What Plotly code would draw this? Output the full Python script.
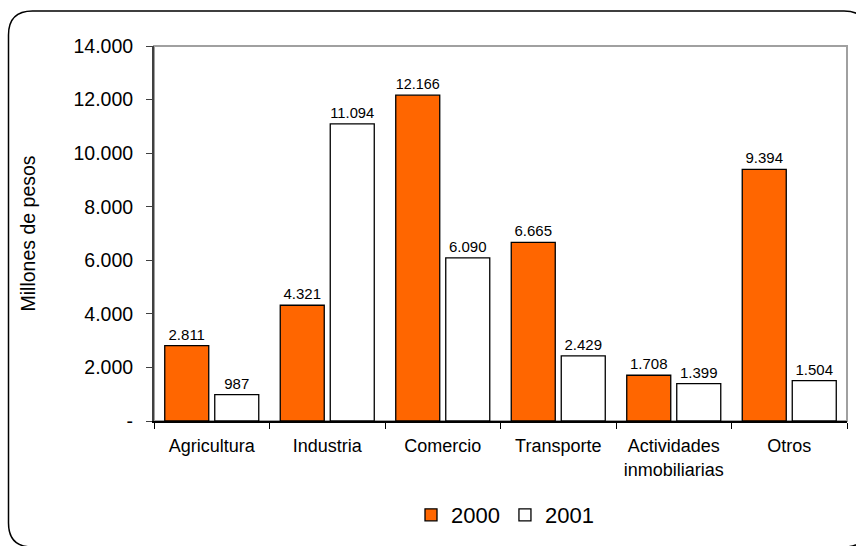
import plotly.graph_objects as go

categories = ["Agricultura", "Industria", "Comercio", "Transporte", "Actividades<br>inmobiliarias", "Otros"]
values_2000 = [2811, 4321, 12166, 6665, 1708, 9394]
values_2001 = [987, 11094, 6090, 2429, 1399, 1504]
series_names = ["2000", "2001"]
y_tickvals = [0, 2000, 4000, 6000, 8000, 10000, 12000, 14000]
y_ticktext = ["-", "2.000", "4.000", "6.000", "8.000", "10.000", "12.000", "14.000"]

W, H = 856, 546
L, R, T, B = 154, 9, 46, 125
PW, PH = W - L - R, H - T - B

def px(x):
    return (x - L) / PW

def py(y):
    return (H - B - y) / PH

FONT = "Liberation Sans, Arial, sans-serif"

fig = go.Figure()
fig.add_trace(go.Bar(
    x=categories, y=values_2000, name=series_names[0],
    marker=dict(color="#FF6600", line=dict(color="#000000", width=1.3)),
    texttemplate="%{y:,.0f}", textposition="outside",
    textfont=dict(size=15, color="#000000", family=FONT), cliponaxis=False,
))
fig.add_trace(go.Bar(
    x=categories, y=values_2001, name=series_names[1],
    marker=dict(color="#FFFFFF", line=dict(color="#000000", width=1.3)),
    texttemplate="%{y:,.0f}", textposition="outside",
    textfont=dict(size=15, color="#000000", family=FONT), cliponaxis=False,
))

# rounded outer frame
x0, y0, x1, y1, r = 8.5, 11, 868, 547, 24
path = (f"M {px(x0+r)},{py(y0)} L {px(x1-r)},{py(y0)} Q {px(x1)},{py(y0)} {px(x1)},{py(y0+r)} "
        f"L {px(x1)},{py(y1-r)} Q {px(x1)},{py(y1)} {px(x1-r)},{py(y1)} "
        f"L {px(x0+r)},{py(y1)} Q {px(x0)},{py(y1)} {px(x0)},{py(y1-r)} "
        f"L {px(x0)},{py(y0+r)} Q {px(x0)},{py(y0)} {px(x0+r)},{py(y0)} Z")

fig.update_layout(
    width=W, height=H,
    margin=dict(l=L, r=R, t=T, b=B),
    paper_bgcolor="#FFFFFF", plot_bgcolor="#FFFFFF",
    separators=",.",
    font=dict(family=FONT, color="#000000", size=18),
    barmode="group", bargap=0.134, bargroupgap=0.12,
    showlegend=True,
    legend=dict(orientation="h", x=px(505), xanchor="center", y=py(515), yanchor="middle",
                font=dict(size=22, family=FONT), bgcolor="rgba(0,0,0,0)",
                itemwidth=30, tracegroupgap=0),
    shapes=[
        dict(type="path", path=path, xref="paper", yref="paper",
             line=dict(color="#000000", width=1.5), layer="below"),
        dict(type="rect", x0=0, x1=1, y0=0, y1=1, xref="paper", yref="paper",
             line=dict(color="#A0A0A0", width=2), layer="below"),
    ],
    annotations=[
        dict(text="Millones de pesos", x=px(27), y=0.5, xref="paper", yref="paper",
             textangle=-90, showarrow=False, xanchor="center", yanchor="middle",
             font=dict(size=19.5, family=FONT)),
    ],
)
fig.update_xaxes(
    type="category", showline=True, linecolor="#000000", linewidth=1.5,
    ticks="outside", tickson="boundaries", ticklen=6, tickcolor="#000000",
    tickfont=dict(size=18, family=FONT), showgrid=False, ticklabelstandoff=8,
)
fig.update_yaxes(
    range=[0, 14000], tickvals=y_tickvals, ticktext=y_ticktext,
    showline=True, linecolor="#404040", linewidth=2,
    ticks="outside", ticklen=6, tickcolor="#404040",
    tickfont=dict(size=19.5, family=FONT), showgrid=False, zeroline=False,
    ticklabelstandoff=9,
)

fig.write_html("out.html", config={"displayModeBar": False},
               post_script="document.body.style.margin='0';document.body.style.overflow='hidden';")
